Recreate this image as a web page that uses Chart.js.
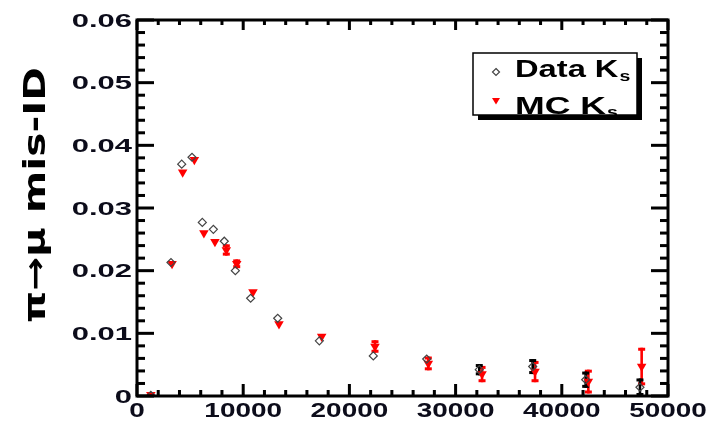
<!DOCTYPE html>
<html>
<head>
<meta charset="utf-8">
<script src="https://cdn.jsdelivr.net/npm/chart.js@4.4.1/dist/chart.umd.min.js"></script>
<style>
  html, body { margin: 0; padding: 0; background: #fff; }
  #wrap { width: 720px; height: 424px; position: relative; }
</style>
</head>
<body>
<div id="wrap"><canvas id="c"></canvas></div>
<script>
// Pion momentum (MeV/c) and pi -> mu mis-identification rate, K_S control sample
const dataMomentum = [1300, 3200, 4210, 5180, 6150, 7190, 8220, 9260, 10700, 13250, 17170, 22250, 27280, 32230, 37260, 42250, 47360];
const dataMisID    = [0.0001, 0.0213, 0.0370, 0.0381, 0.0277, 0.0266, 0.0247, 0.0200, 0.0156, 0.0124, 0.0088, 0.0064, 0.0059, 0.0042, 0.0047, 0.0026, 0.0014];
const dataErr      = [0.0001, 0.0002, 0.0002, 0.0002, 0.0002, 0.0002, 0.0002, 0.0002, 0.0002, 0.0002, 0.0002, 0.0004, 0.0004, 0.0009, 0.0012, 0.0013, 0.0014];

const mcMomentum = [1300, 3300, 4300, 5400, 6300, 7340, 8410, 9390, 10920, 13370, 17390, 22410, 27430, 32490, 37480, 42500, 47520];
const mcMisID    = [0.0002, 0.0211, 0.0357, 0.0377, 0.0260, 0.0246, 0.0233, 0.0211, 0.0166, 0.0115, 0.0095, 0.0079, 0.0052, 0.0035, 0.0039, 0.0023, 0.0047];
const mcErr      = [0.0001, 0.0002, 0.0002, 0.0002, 0.0002, 0.0002, 0.0009, 0.0007, 0.0002, 0.0002, 0.0002, 0.0010, 0.0011, 0.0013, 0.0017, 0.0019, 0.0030];

const xTickValues = [0, 10000, 20000, 30000, 40000, 50000];
const xTickLabels = ['0', '10000', '20000', '30000', '40000', '50000'];
const yTickValues = [0, 0.01, 0.02, 0.03, 0.04, 0.05, 0.06];
const yTickLabels = ['0', '0.01', '0.02', '0.03', '0.04', '0.05', '0.06'];

const seriesNames = ['Data K', 'MC K'];
const seriesSub = 's';
const yTitle = 'π→μ mis-ID';

const INK = '#0c0c1a';
const RED = '#ff0000';

function toPoints(xs, ys) { return xs.map((x, i) => ({ x: x, y: ys[i] })); }

// Text drawn with a horizontal stretch factor
function stretchedText(ctx, text, x, y, sx, align) {
  const w = ctx.measureText(text).width * sx;
  const left = align === 'right' ? x - w : (align === 'center' ? x - w / 2 : x);
  ctx.save();
  ctx.translate(left, y);
  ctx.scale(sx, 1);
  ctx.textAlign = 'left';
  ctx.fillText(text, 0, 0);
  ctx.restore();
  return w;
}

function drawErrorBars(ctx, area, xs, ys, es, color, xScale, yScale) {
  ctx.save();
  ctx.beginPath();
  ctx.rect(area.left, area.top, area.right - area.left, area.bottom - area.top + 1);
  ctx.clip();
  ctx.fillStyle = color;
  for (let i = 0; i < xs.length; i++) {
    const e = es[i];
    if (!e) continue;
    const px = xScale.getPixelForValue(xs[i]);
    const top = yScale.getPixelForValue(ys[i] + e);
    const bot = yScale.getPixelForValue(Math.max(0, ys[i] - e));
    if (bot - top < 6) continue;
    ctx.fillRect(px - 1.3, top, 2.6, bot - top);
    ctx.fillRect(px - 3.5, top, 7, 3);
    ctx.fillRect(px - 3.5, bot - 3, 7, 3);
  }
  ctx.restore();
}

const errorBarPlugin = {
  id: 'errorBars',
  beforeDatasetsDraw(chart) {
    const { ctx, chartArea, scales } = chart;
    drawErrorBars(ctx, chartArea, mcMomentum, mcMisID, mcErr, RED, scales.x, scales.y);
    drawErrorBars(ctx, chartArea, dataMomentum, dataMisID, dataErr, '#000', scales.x, scales.y);
  }
};

const framePlugin = {
  id: 'frame',
  afterDatasetsDraw(chart) {
    const { ctx, chartArea: a, scales } = chart;
    const xs = scales.x, ys = scales.y;
    ctx.save();
    // ticks on all four sides, pointing inward
    ctx.fillStyle = '#000';
    for (let v = 0; v <= 50000; v += 2000) {
      const px = xs.getPixelForValue(v);
      const major = v % 10000 === 0;
      const len = major ? 12 : 6;
      ctx.fillRect(px - 1.5, a.bottom - len, 3, len);
      ctx.fillRect(px - 1.5, a.top, 3, major ? 10 : 5);
    }
    for (let i = 0; i <= 30; i++) {
      const py = ys.getPixelForValue(i * 0.002);
      const major = i % 5 === 0;
      const len = major ? 17 : 8;
      ctx.fillRect(a.left, py - 1.5, len, 3);
      ctx.fillRect(a.right - len, py - 1.5, len, 3);
    }
    // frame
    ctx.strokeStyle = '#000';
    ctx.lineWidth = 3;
    ctx.strokeRect(a.left, a.top, a.right - a.left, a.bottom - a.top);

    // tick labels
    ctx.fillStyle = INK;
    ctx.textBaseline = 'alphabetic';
    ctx.font = 'bold 18px "Liberation Sans", Arial, sans-serif';
    yTickValues.forEach((v, i) => {
      const py = ys.getPixelForValue(v);
      stretchedText(ctx, yTickLabels[i], a.left - 5, py + 6.5, 1.72, 'right');
    });
    ctx.font = 'bold 21px "Liberation Sans", Arial, sans-serif';
    xTickValues.forEach((v, i) => {
      const px = xs.getPixelForValue(v);
      stretchedText(ctx, xTickLabels[i], px, a.bottom + 21, 1.33, 'center');
    });

    // vertical axis title
    ctx.save();
    ctx.translate(45, 195);
    ctx.rotate(-Math.PI / 2);
    ctx.font = 'bold 30px "DejaVu Sans", sans-serif';
    ctx.fillStyle = '#000';
    const tw = ctx.measureText(yTitle).width;
    const s = 256 / tw;
    ctx.scale(s, 1);
    ctx.textAlign = 'center';
    ctx.fillText(yTitle, 0, 0);
    ctx.restore();

    // legend box with shadow
    const lx = 473, ly = 53, lw = 164, lh = 62;
    ctx.fillStyle = '#000';
    ctx.fillRect(lx + 5, ly + 5, lw, lh);
    ctx.fillStyle = '#fff';
    ctx.fillRect(lx, ly, lw, lh);
    ctx.strokeStyle = '#000';
    ctx.lineWidth = 1.5;
    ctx.strokeRect(lx, ly, lw, lh);

    // legend markers
    ctx.strokeStyle = '#444';
    ctx.lineWidth = 1.2;
    ctx.beginPath();
    ctx.moveTo(496, 68.5); ctx.lineTo(499.5, 72); ctx.lineTo(496, 75.5); ctx.lineTo(492.5, 72); ctx.closePath();
    ctx.stroke();
    ctx.fillStyle = RED;
    ctx.beginPath();
    ctx.moveTo(492, 98); ctx.lineTo(500, 98); ctx.lineTo(496, 104.5); ctx.closePath();
    ctx.fill();

    // legend text
    ctx.fillStyle = '#000';
    ctx.font = 'bold 23px "Liberation Sans", Arial, sans-serif';
    let w0 = stretchedText(ctx, seriesNames[0], 515, 77, 1.42, 'left');
    let w1 = stretchedText(ctx, seriesNames[1], 515, 114, 1.55, 'left');
    ctx.font = 'bold 15px "Liberation Sans", Arial, sans-serif';
    stretchedText(ctx, seriesSub, 515 + w0 + 1, 81, 1.3, 'left');
    stretchedText(ctx, seriesSub, 515 + w1 + 1, 117, 1.3, 'left');
    ctx.restore();
  }
};

new Chart(document.getElementById('c'), {
  type: 'scatter',
  data: {
    datasets: [
      {
        label: seriesNames[0] + seriesSub,
        data: toPoints(dataMomentum, dataMisID),
        pointStyle: 'rectRot',
        pointRadius: 4,
        pointBorderWidth: 1.2,
        borderColor: '#444',
        backgroundColor: 'rgba(0,0,0,0)'
      },
      {
        label: seriesNames[1] + seriesSub,
        data: toPoints(mcMomentum, mcMisID),
        pointStyle: 'triangle',
        rotation: 180,
        pointRadius: 5.5,
        pointBorderWidth: 0,
        borderColor: RED,
        backgroundColor: RED
      }
    ]
  },
  options: {
    responsive: true,
    maintainAspectRatio: false,
    devicePixelRatio: 1,
    animation: false,
    events: [],
    layout: { padding: { top: 20, right: 52, left: 0, bottom: 0 } },
    plugins: { legend: { display: false }, tooltip: { enabled: false } },
    scales: {
      x: {
        type: 'linear', min: 0, max: 50000,
        grid: { display: false }, border: { display: false },
        ticks: { display: false, stepSize: 10000 },
        afterFit(scale) { scale.height = 28; }
      },
      y: {
        type: 'linear', min: 0, max: 0.06,
        grid: { display: false }, border: { display: false },
        ticks: { display: false, stepSize: 0.01 },
        afterFit(scale) { scale.width = 137; }
      }
    }
  },
  plugins: [errorBarPlugin, framePlugin]
});
</script>
</body>
</html>
